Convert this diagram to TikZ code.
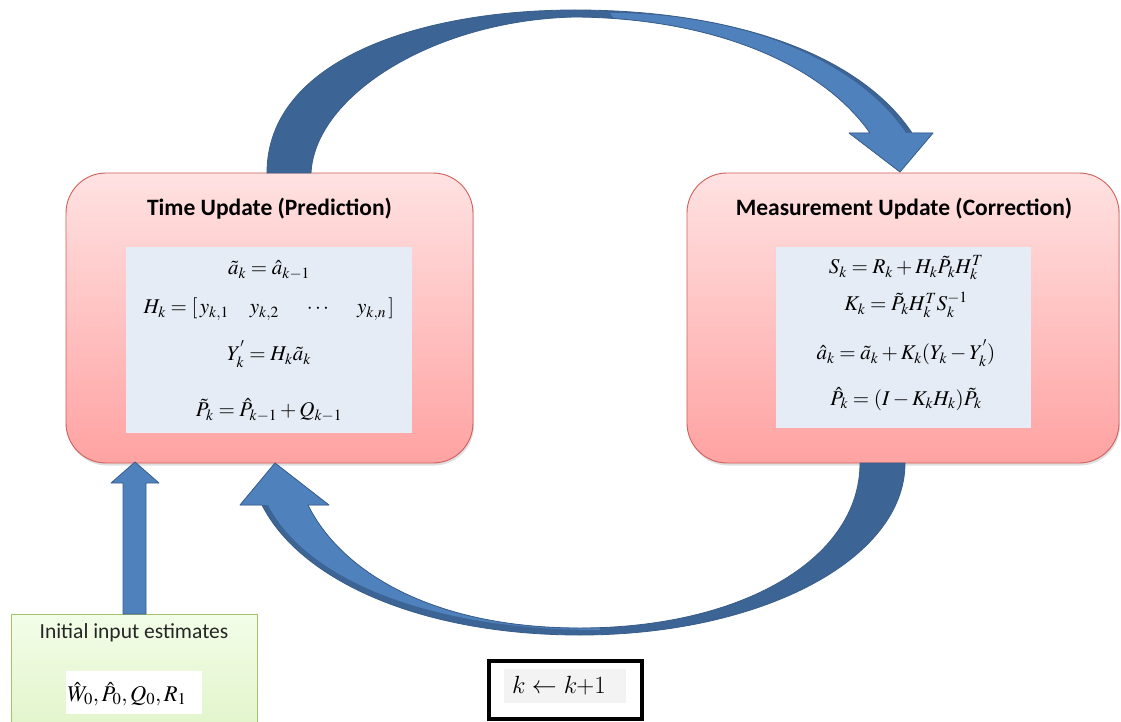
\documentclass[tikz,border=0pt]{standalone}
\usepackage{mathptmx}
\usepackage[no-math]{fontspec}
\newfontfamily\carlito{Carlito}
\usetikzlibrary{calc,shadows}
\definecolor{arrowlight}{HTML}{4F81BD}
\definecolor{arrowdark}{HTML}{3C6595}
\definecolor{arrowline}{HTML}{385D8A}
\definecolor{boxtop}{HTML}{FFE2E2}
\definecolor{boxbot}{HTML}{FFA2A2}
\definecolor{boxline}{HTML}{D0605C}
\definecolor{panel}{HTML}{E6ECF6}
\definecolor{greentop}{HTML}{F3FDE8}
\definecolor{greenbot}{HTML}{E0F4C8}
\definecolor{greenline}{HTML}{A4C46A}
\definecolor{kpanel}{HTML}{F3F3F3}
% Computer Modern pieces for the counter label
\newcommand{\cmk}{{\usefont{OML}{cmm}{m}{it}k}}
\newcommand{\cmleft}{{\usefont{OMS}{cmsy}{m}{n}\char"20}}
\newcommand{\cmrm}[1]{{\usefont{OT1}{cmr}{m}{n}#1}}
\begin{document}
\begin{tikzpicture}[x=1pt,y=-1pt,
  stage/.style={draw=boxline, line width=0.9pt, rounded corners=40pt,
    top color=boxtop, bottom color=boxbot, minimum height=290pt, minimum width=#1,
    inner sep=0pt, drop shadow={shadow xshift=1pt, shadow yshift=-2.5pt, opacity=0.25}},
  panelbox/.style={fill=panel, inner sep=0pt, minimum width=#1},
  title/.style={font=\carlito\bfseries\fontsize{23.5}{28}\selectfont},
  eq/.style={font=\fontsize{21}{25}\selectfont, inner sep=0pt},
  blockarrow/.style={draw=arrowline, line width=0.8pt, line join=round}]

\useasboundingbox (0,0) rectangle (1121,722);
\fill[white] (0,0) rectangle (1121,722);

% the two update stages
\node[stage=407pt] (tu) at (269.5,318) {};
\node[stage=432pt] (mu) at (903,318) {};
\node[title] (tut) at (269.5,209) {Time Update (Prediction)};
\node[title] (mut) at (904,209) {Measurement Update (Correction)};

\node[panelbox=286pt, minimum height=186pt] (tup) at (269,340) {};
\node[panelbox=255pt, minimum height=181pt] (mup) at (903.5,337.5) {};

% prediction equations
\node[eq] (p1) at (269,270) {$\tilde{a}_k=\hat{a}_{k-1}$};
\node[eq] (p2) at (269,309) {$H_k=[\,y_{k,1}\quad y_{k,2}\quad\;\cdots\quad\; y_{k,n}\,]$};
\node[eq] (p3) at (269,354) {$Y_k^{'}=H_k\tilde{a}_k$};
\node[eq] (p4) at (269,410) {$\tilde{P}_k=\hat{P}_{k-1}+Q_{k-1}$};

% correction equations
\node[eq] (c1) at (906,268) {$S_k=R_k+H_k\tilde{P}_kH_k^T$};
\node[eq] (c2) at (906,305) {$K_k=\tilde{P}_kH_k^TS_k^{-1}$};
\node[eq] (c3) at (906,353) {$\hat{a}_k=\tilde{a}_k+K_k(Y_k-Y_k^{'})$};
\node[eq] (c4) at (906,399) {$\hat{P}_k=(I-K_kH_k)\tilde{P}_k$};

% initial estimates
\node[draw=greenline, line width=0.9pt, top color=greentop, bottom color=greenbot,
      minimum width=246pt, minimum height=126pt, inner sep=0pt] (init) at (134,677) {};
\node[font=\carlito\fontsize{21.5}{25}\selectfont, text=black!85] (initt) at (134,633) {Initial input estimates};
\node[fill=white, minimum width=136pt, minimum height=43pt, inner sep=0pt] (initp) at (134,692.5) {};
\node[eq, font=\fontsize{22.5}{26}\selectfont] (initm) at (127,694) {$\hat{W}_0,\hat{P}_0,Q_0,R_1$};

% iteration counter
\node[draw=black, line width=4pt, minimum width=153pt, minimum height=58pt, inner sep=0pt] (kb) at (565.5,690) {};
\node[fill=kpanel, minimum width=122pt, minimum height=34pt, inner sep=0pt] (kp) at (565,686) {};
\node[font=\fontsize{25}{30}\selectfont, inner sep=0pt] (kt) at (559,686)
  {\cmk\hspace{0.28em}\cmleft\hspace{0.28em}\cmk\cmrm{+1}};

% input arrow into the prediction stage
\path[blockarrow, fill=arrowlight]
  (123,614) -- (123,483) -- (111,483) -- (135,462) -- (159,483) -- (146,483) -- (146,614) -- cycle;

% arrow from prediction to correction (over the top)
\def\toparrow{(267,173) .. controls (267,60) and (420,10) .. (575,10)
  .. controls (735,10) and (860,55) .. (912,133) -- (933,133) -- (900,172) -- (849,133) -- (870,133)
  .. controls (820,62) and (710,18) .. (575,17) .. controls (435,20) and (315,95) .. (311,173) -- cycle}
\fill[arrowdark] \toparrow;
\begin{scope}
  \clip \toparrow;
  \fill[arrowlight] (610,13) .. controls (745,13) and (858,62) .. (906,133) -- (945,133) -- (945,185) -- (730,185) -- cycle;
\end{scope}
\draw[blockarrow] \toparrow;

% arrow from correction back to prediction (underneath)
\def\botarrow{(905,463) .. controls (905,560) and (760,635) .. (580,635)
  .. controls (420,635) and (300,580) .. (262,505) -- (240,505) -- (275,463) -- (329,505) -- (308,505)
  .. controls (340,570) and (430,628) .. (580,628) .. controls (740,628) and (860,560) .. (860,463) -- cycle}
\fill[arrowdark] \botarrow;
\begin{scope}
  \clip \botarrow;
  \fill[arrowlight] (600,630) .. controls (425,630) and (306,578) .. (268,505) -- (225,505) -- (225,450) -- (570,450) -- cycle;
\end{scope}
\draw[blockarrow] \botarrow;
\end{tikzpicture}
\end{document}
